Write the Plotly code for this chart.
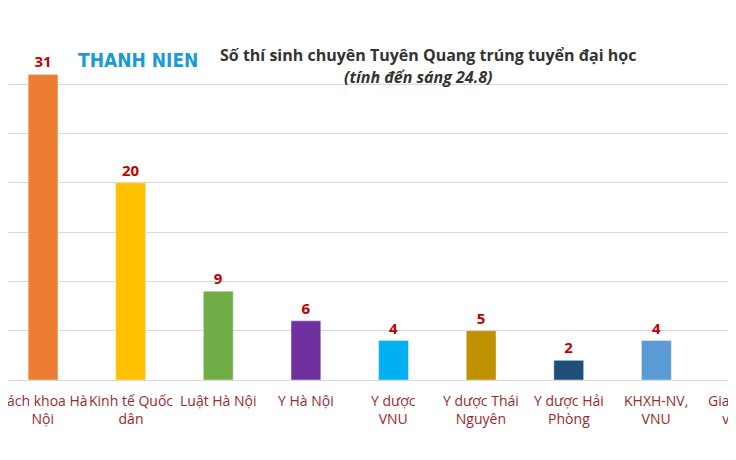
import plotly.graph_objects as go

categories = ["Bách khoa Hà<br>Nội", "Kinh tế Quốc<br>dân", "Luật Hà Nội", "Y Hà Nội", "Y dược<br>VNU",
              "Y dược Thái<br>Nguyên", "Y dược Hải<br>Phòng", "KHXH-NV,<br>VNU", "Giao thông<br>vận tải"]
values = [31, 20, 9, 6, 4, 5, 2, 4, 2]
labels = ["31", "20", "9", "6", "4", "5", "2", "4", "2"]
colors = ["#ED7D31", "#FFC000", "#70AD47", "#7030A0", "#00B0F0", "#BF9000", "#1F4E79", "#5B9BD5", "#F4B183"]

xs = list(range(len(categories)))
fig = go.Figure(go.Bar(
    x=xs, y=values, marker_color=colors, width=0.34,
    text=labels, textposition="outside", cliponaxis=False,
    textfont=dict(color="#C00000", size=15, family="Open Sans"),
))
fig.update_traces(texttemplate="<b>%{text}</b>")
ann = [dict(x=x, y=-0.025, xref="x", yref="paper", xanchor="center", yanchor="top", showarrow=False,
            text=c, font=dict(color="#A0282B", size=14, family="Open Sans"))
       for x, c in zip(xs, categories)]
ann += [
    dict(x=0.092, y=0.927, xref="paper", yref="paper", xanchor="left", yanchor="middle", showarrow=False,
         text="<b>THANH NIEN</b>", font=dict(color="#1A9BD7", size=19, family="DejaVu Sans Condensed")),
    dict(x=0.57, y=0.942, xref="paper", yref="paper", xanchor="center", yanchor="middle", showarrow=False,
         text="<b>Số thí sinh chuyên Tuyên Quang trúng tuyển đại học</b>",
         font=dict(color="#333333", size=16, family="Open Sans")),
    dict(x=0.557, y=0.878, xref="paper", yref="paper", xanchor="center", yanchor="middle", showarrow=False,
         text="<b><i>(tính đến sáng 24.8)</i></b>",
         font=dict(color="#333333", size=16, family="Open Sans")),
]
fig.update_layout(
    width=736, height=460, margin=dict(l=0, r=0, t=27, b=88, autoexpand=False),
    plot_bgcolor="white", paper_bgcolor="white", showlegend=False,
    xaxis=dict(range=[-0.40, 8.0], showticklabels=False, showgrid=False, automargin=False,
               showline=True, linecolor="#D9D9D9", ticks=""),
    yaxis=dict(range=[0, 35], dtick=5, showticklabels=False, gridcolor="#D9D9D9", zeroline=False,
               automargin=False),
    annotations=ann,
)
fig.write_html("out.html")
